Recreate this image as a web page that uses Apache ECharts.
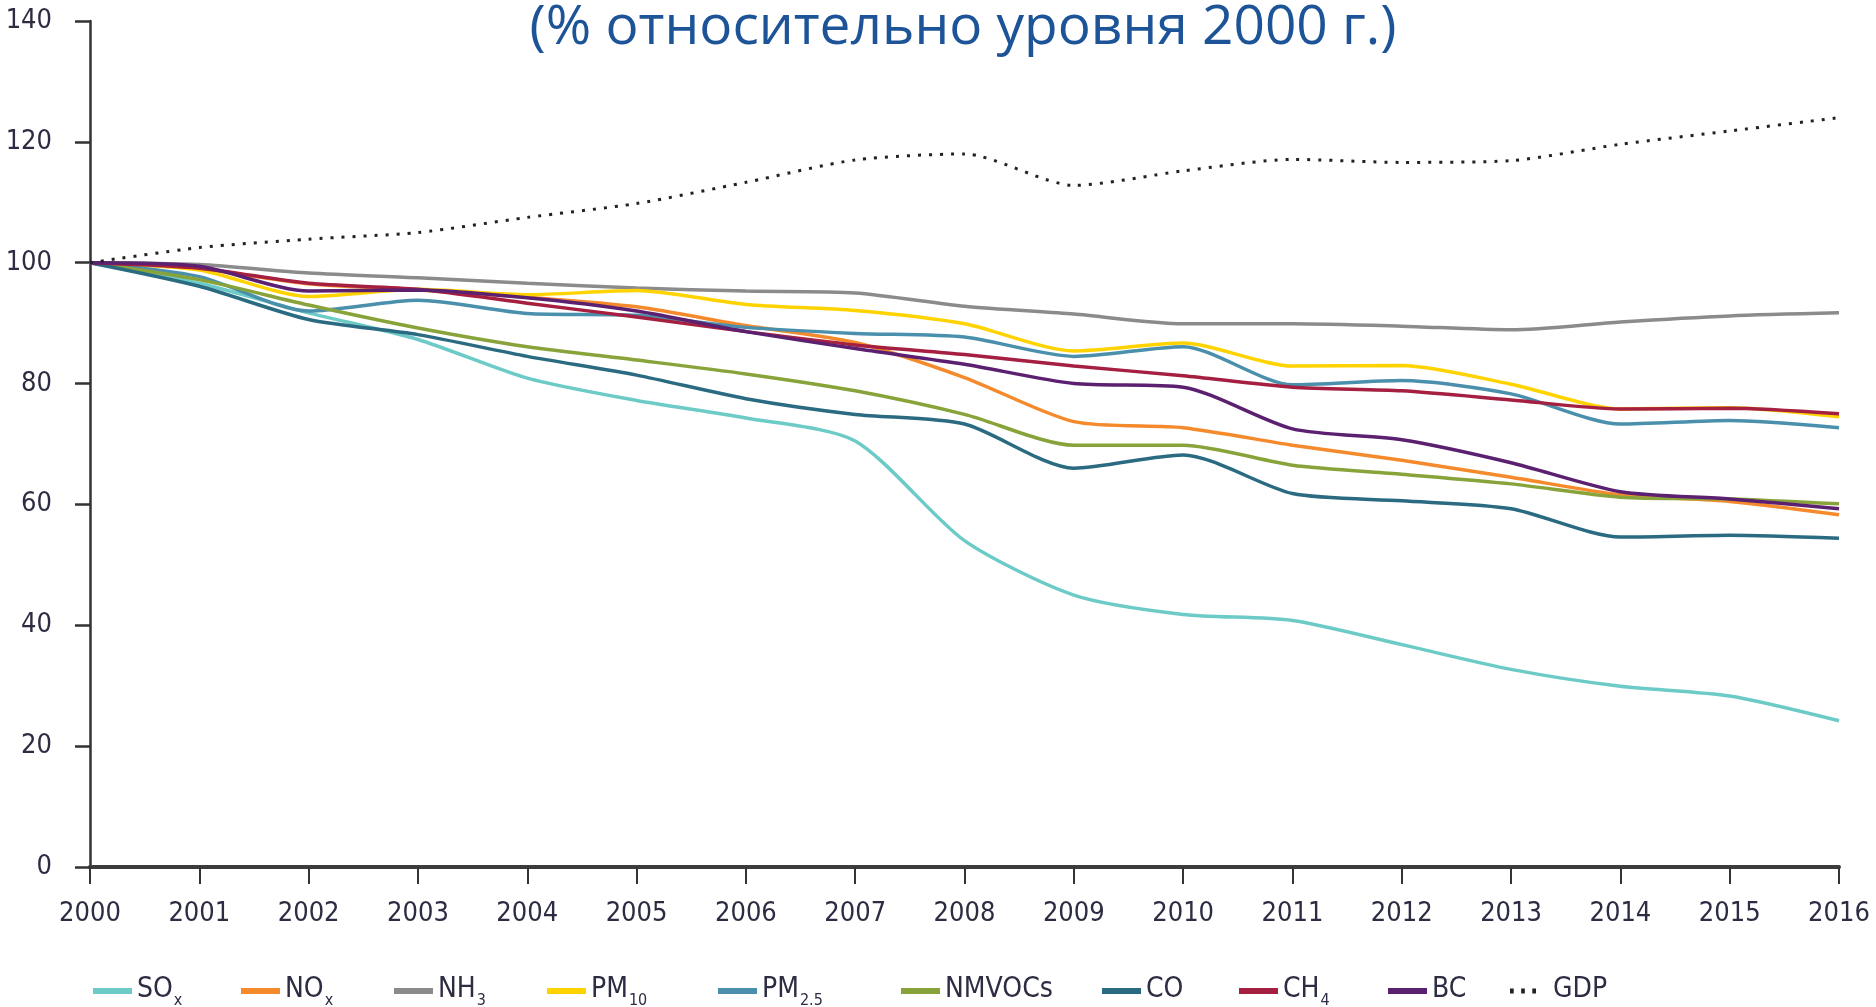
<!DOCTYPE html>
<html>
  <head>
    <meta charset="utf-8" />
    <title>Emissions vs GDP</title>
    <script src="https://cdn.jsdelivr.net/npm/echarts@6/dist/echarts.min.js"></script>
    <style>
      html, body { margin: 0; padding: 0; background: #fff; }
    </style>
  </head>
  <body>
    <div id="main" style="width: 1876px; height: 1007px"></div>

    <script type="text/javascript">
      // years on the x axis
      var years = ["2000", "2001", "2002", "2003", "2004", "2005", "2006", "2007", "2008",
                   "2009", "2010", "2011", "2012", "2013", "2014", "2015", "2016"];

      // % of 2000 level
      var sox    = [100, 96.6, 91.7, 87.3, 80.9, 77.2, 74.3, 70.5, 54.0, 45.0, 41.8, 40.8, 36.8, 32.7, 29.9, 28.3, 24.2];
      var nox    = [100, 99.0, 96.5, 95.5, 94.3, 92.7, 89.6, 86.8, 81.0, 73.7, 72.7, 69.8, 67.3, 64.5, 61.6, 60.5, 58.3];
      var nh3    = [100, 99.7, 98.3, 97.5, 96.6, 95.8, 95.3, 95.0, 92.8, 91.5, 89.9, 89.9, 89.5, 88.9, 90.2, 91.2, 91.7];
      var pm10   = [100, 98.8, 94.4, 95.6, 94.7, 95.4, 93.1, 92.1, 89.9, 85.4, 86.7, 82.9, 83.0, 79.9, 75.8, 76.0, 74.5];
      var pm25   = [100, 97.7, 92.0, 93.8, 91.6, 91.3, 89.3, 88.3, 87.7, 84.5, 86.1, 79.8, 80.5, 78.3, 73.3, 73.9, 72.7];
      var nmvocs = [100, 97.2, 93.0, 89.2, 86.1, 83.9, 81.6, 78.8, 74.9, 69.8, 69.8, 66.5, 65.0, 63.4, 61.2, 60.9, 60.1];
      var co     = [100, 96.1, 90.6, 88.1, 84.5, 81.4, 77.5, 74.9, 73.3, 66.0, 68.2, 61.8, 60.6, 59.3, 54.6, 54.9, 54.4];
      var ch4    = [100, 99.1, 96.6, 95.6, 93.3, 91.0, 88.6, 86.4, 84.8, 82.9, 81.3, 79.4, 78.8, 77.3, 75.8, 75.9, 75.0];
      var bc     = [100, 99.4, 95.3, 95.5, 94.2, 92.0, 88.6, 85.8, 83.2, 80.0, 79.4, 72.5, 70.7, 66.9, 62.1, 60.9, 59.3];
      var gdp    = [100, 102.5, 103.9, 105.0, 107.5, 109.8, 113.3, 117.0, 118.0, 112.8, 115.2, 117.1, 116.6, 116.9, 119.6, 121.8, 124.0];

      var names  = ["SOx", "NOx", "NH3", "PM10", "PM2.5", "NMVOCs", "CO", "CH4", "BC", "GDP"];
      var labels = ["SO{s|x}", "NO{s|x}", "NH{s|3}", "PM{s|10}", "PM{s|2.5}", "NMVOCs", "CO", "CH{s|4}", "BC", "{g|GDP}"];
      var values = [sox, nox, nh3, pm10, pm25, nmvocs, co, ch4, bc, gdp];
      var colors = ["#6ccbc7", "#f58a2c", "#8b8b8b", "#ffd300", "#4a90ad",
                    "#88a33a", "#2b6b81", "#a51f40", "#5b2070", "#222222"];

      var legendLeft = [88, 236, 389, 542, 713, 896, 1097, 1234, 1383, 1505];
      var axisFont = "DejaVu Sans Condensed";
      var textColor = "#2c2c42";

      var chart = echarts.init(document.getElementById("main"));

      var series = names.map(function (n, i) {
        var s = {
          name: n,
          type: "line",
          data: values[i],
          symbol: "none",
          smooth: 0.25,
          color: colors[i],
          lineStyle: { width: 3.5, color: colors[i] },
          z: 2 + i,
        };
        if (n === "GDP") {
          s.lineStyle = { width: 3, color: colors[i], type: [3, 8], cap: "butt" };
        }
        return s;
      });

      var legends = names.map(function (n, i) {
        var isGdp = n === "GDP";
        return {
          data: [n],
          left: legendLeft[i],
          top: 971,
          icon: isGdp ? "path://M0,0h3v4h-3zM9,0h3v4h-3zM18,0h3v4h-3z" : "rect",
          itemWidth: isGdp ? 26 : 39,
          itemHeight: isGdp ? 5 : 6,
          selectedMode: false,
          formatter: function () {
            // wrap the plain part so all items share the same line box
            return labels[i].replace(/^([^{]+)/, "{m|$1}");
          },
          textStyle: {
            color: textColor,
            fontFamily: axisFont,
            rich: {
              m: { fontSize: 28, fontFamily: axisFont, color: textColor,
                   verticalAlign: "top", lineHeight: 30, padding: [0, 0, 6, 0] },
              g: { fontSize: 28, fontFamily: axisFont, color: textColor,
                   verticalAlign: "top", lineHeight: 30, padding: [0, 0, 6, 12] },
              s: { fontSize: 16, fontFamily: axisFont, color: textColor,
                   verticalAlign: "top", lineHeight: 17, padding: [17, 0, 0, 1] },
            },
          },
        };
      });

      var option = {
        animation: false,
        backgroundColor: "#ffffff",
        graphic: [
          {
            type: "text",
            x: 963,
            y: 1,
            style: {
              text: "(% относительно уровня 2000 г.)",
              fill: "#1c5497",
              fontSize: 55,
              fontFamily: "Open Sans",
              align: "center",
              verticalAlign: "top",
            },
          },
        ],
        legend: legends,
        grid: { left: 90, right: 37, top: 21, bottom: 140, containLabel: false },
        xAxis: {
          type: "category",
          data: years,
          boundaryGap: false,
          axisLine: { show: true, lineStyle: { color: "#3c3c3c", width: 4 } },
          axisTick: { show: true, interval: 0, length: 17, lineStyle: { color: "#333", width: 2 } },
          axisLabel: { interval: 0, margin: 33, fontSize: 27, fontFamily: axisFont, color: textColor },
          splitLine: { show: false },
        },
        yAxis: {
          type: "value",
          min: 0,
          max: 140,
          interval: 20,
          axisLine: { show: true, lineStyle: { color: "#333", width: 2.5 } },
          axisTick: { show: true, length: 15, lineStyle: { color: "#333", width: 2.5 } },
          axisLabel: { margin: 38, fontSize: 27, fontFamily: axisFont, color: textColor },
          splitLine: { show: false },
        },
        series: series,
      };

      chart.setOption(option);
    </script>
  </body>
</html>
